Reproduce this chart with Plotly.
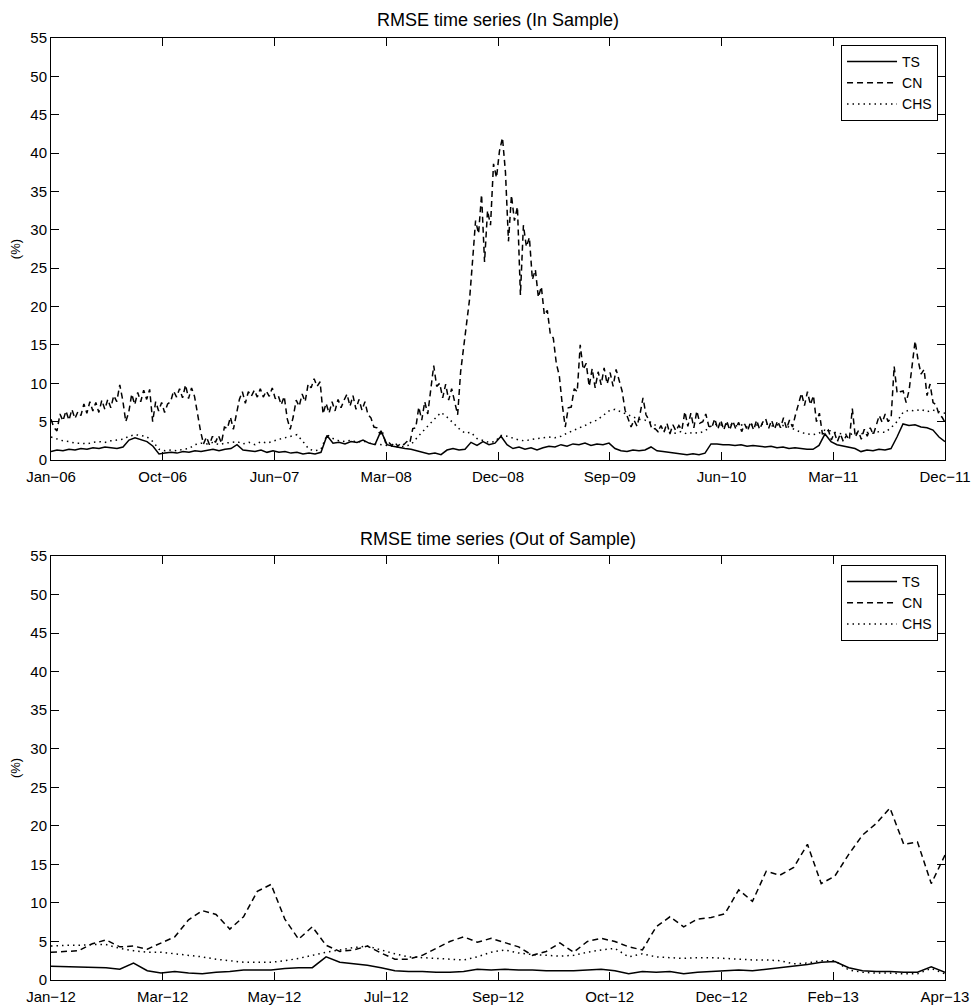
import pandas as pd
import plotly.graph_objects as go

# ---- axis ranges and tick labels -------------------------------------------
IS_START, IS_END = "2006-01-02", "2011-12-20"
OOS_START, OOS_END = "2012-01-04", "2013-04-30"

is_tick_labels = ["Jan−06", "Oct−06", "Jun−07", "Mar−08", "Dec−08",
                  "Sep−09", "Jun−10", "Mar−11", "Dec−11"]
oos_tick_labels = ["Jan−12", "Mar−12", "May−12", "Jul−12", "Sep−12",
                   "Oct−12", "Dec−12", "Feb−13", "Apr−13"]
y_ticks = list(range(0, 56, 5))

# ---- in-sample RMSE (%) ----------------------------------------------------
is_ts = [
    1.1, 1.3, 1.2, 1.4, 1.3, 1.5, 1.4, 1.6, 1.5, 1.7,
    1.6, 1.5, 1.7, 2.6, 2.9, 2.7, 2.4, 1.8, 0.8, 0.9,
    1.0, 0.9, 1.1, 1.0, 1.2, 1.1, 1.3, 1.4, 1.2, 1.4,
    1.5, 2.0, 1.3, 1.2, 1.1, 1.3, 1.0, 1.2, 1.0, 1.1,
    0.9, 1.0, 0.8, 0.9, 0.8, 1.0, 3.2, 2.2, 2.3, 2.1,
    2.4, 2.3, 2.6, 2.2, 2.0, 3.8, 2.0, 1.8, 1.6, 1.5,
    1.4, 1.2, 1.0, 0.8, 0.9, 0.7, 1.3, 1.5, 1.3, 1.4,
    2.3, 1.9, 2.4, 2.0, 2.2, 3.1, 2.0, 1.5, 1.7, 1.4,
    1.6, 1.3, 1.6, 1.8, 1.7, 2.0, 1.8, 2.1, 2.0, 2.2,
    1.9, 2.1, 2.0, 2.2, 1.5, 1.2, 1.1, 1.3, 1.2, 1.3,
    1.7, 1.2, 1.1, 1.0, 0.9, 0.8, 0.7, 0.8, 0.7, 0.9,
    2.1, 2.1, 2.0, 2.0, 1.9, 2.0, 1.8, 1.9, 1.8, 1.7,
    1.8, 1.6, 1.7, 1.5, 1.6, 1.5, 1.4, 1.4, 1.9, 3.4,
    2.4, 2.0, 1.8, 1.7, 1.5, 1.1, 1.3, 1.2, 1.4, 1.3,
    1.5, 3.0, 4.7, 4.5, 4.6, 4.3, 4.2, 3.9, 3.0, 2.4,
]

is_cn = [
    5.3, 4.2, 3.8, 6.0, 5.1, 6.4, 5.2, 6.6, 5.4, 6.3,
    5.8, 7.3, 6.1, 7.6, 6.4, 7.5, 6.2, 7.8, 6.6, 7.9,
    6.8, 8.4, 7.6, 9.8, 7.8, 5.0, 6.2, 8.6, 7.2, 8.8,
    7.6, 9.1, 7.9, 9.2, 5.0, 7.6, 6.4, 7.5, 6.2, 7.3,
    7.6, 9.0, 8.2, 9.3, 8.1, 9.8, 8.0, 9.4, 8.3, 5.8,
    3.8, 2.1, 3.0, 2.0, 3.1, 2.3, 3.2, 2.2, 4.3, 4.1,
    5.6, 4.0, 6.2, 7.9, 8.9, 7.4, 8.9, 8.3, 9.1, 8.2,
    9.3, 8.2, 9.0, 8.3, 9.4, 8.0, 8.4, 7.2, 8.3, 5.4,
    4.0, 5.6, 7.8, 7.0, 8.6, 7.6, 9.9, 9.4, 10.6, 9.6,
    10.2, 6.0, 7.4, 6.1, 7.6, 6.4, 7.9, 6.8, 7.8, 8.6,
    7.0, 8.4, 6.6, 7.9, 6.5, 7.6, 5.9, 5.5, 4.3, 4.2,
    3.4, 3.5, 2.1, 2.3, 1.9, 2.3, 1.8, 2.2, 2.0, 2.4,
    2.2, 4.1, 4.2, 6.9, 5.2, 7.6, 6.0, 9.1, 12.3, 9.6,
    10.0, 8.1, 9.9, 7.8, 9.3, 7.6, 5.9, 11.5, 14.8, 18.0,
    21.0, 26.0, 31.2, 29.5, 34.6, 25.8, 32.5, 30.6, 38.6, 36.8,
    40.3, 42.0, 37.5, 28.5, 34.5, 31.2, 33.0, 21.5, 30.6, 27.8,
    29.0, 23.5, 24.8, 21.2, 22.6, 18.9, 19.5, 16.4, 15.9, 12.6,
    11.0, 7.2, 4.3, 6.8, 6.9, 9.3, 8.9, 15.0, 11.8, 12.6,
    9.6, 11.9, 9.4, 11.5, 9.8, 12.0, 9.9, 11.4, 9.6, 11.8,
    10.2, 9.0, 6.5, 5.4, 4.3, 5.2, 4.4, 6.0, 8.1, 5.9,
    5.2, 4.0, 4.1, 3.7, 4.5, 3.6, 4.8, 3.4, 4.6, 3.8,
    4.5, 3.9, 6.3, 4.4, 6.1, 4.2, 6.4, 4.8, 5.0, 6.0,
    4.4, 4.2, 5.4, 4.0, 5.2, 3.9, 5.1, 3.9, 5.1, 4.1,
    4.9, 3.7, 4.7, 3.8, 5.0, 3.9, 5.2, 4.0, 4.9, 5.4,
    4.1, 5.2, 4.0, 5.1, 4.2, 5.5, 4.1, 5.2, 4.3, 5.9,
    7.4, 8.7, 7.1, 8.9, 7.2, 8.4, 5.0, 6.1, 3.4, 3.5,
    3.9, 2.6, 3.6, 2.4, 3.4, 2.4, 3.2, 2.6, 6.7, 3.0,
    3.8, 2.7, 4.0, 3.1, 4.2, 3.3, 4.5, 5.8, 4.9, 6.0,
    5.0, 5.6, 12.2, 8.7, 8.9, 9.0, 7.5, 9.1, 12.3, 15.5,
    13.0, 11.2, 11.8, 8.4, 9.9, 7.5, 7.2, 5.9, 5.6, 4.9,
]

is_chs = [
    3.0, 2.7, 2.5, 2.4, 2.2, 2.2, 2.1, 2.3, 2.4, 2.3,
    2.5, 2.6, 2.7, 3.1, 3.3, 3.2, 3.0, 2.4, 1.4, 1.2,
    1.3, 1.2, 1.4, 1.5, 2.0, 2.2, 2.1, 2.3, 2.0, 2.2,
    2.3, 2.4, 2.1, 2.3, 2.0, 2.4, 2.2, 2.5, 2.7, 2.9,
    3.1, 3.3, 2.4, 1.4, 1.2, 1.4, 3.3, 2.8, 2.5, 2.4,
    2.6, 2.3, 2.5, 2.2, 2.1, 2.0, 1.9, 1.8, 1.7, 1.8,
    2.0, 2.9, 3.8, 4.6, 5.4, 6.2, 5.6, 4.8, 4.1, 3.5,
    3.6, 2.8, 2.5, 2.3, 2.4, 3.2, 3.1, 2.8, 2.6, 2.5,
    2.7, 2.8, 2.9, 3.0, 2.9, 3.1, 3.5, 3.8, 4.2, 4.5,
    4.9, 5.2, 5.8, 6.4, 6.6, 6.3, 6.0, 5.6, 5.3, 5.2,
    4.9, 4.4, 3.9, 3.6, 3.5, 3.7, 3.4, 3.6, 3.5, 3.8,
    4.4, 4.7, 4.5, 4.8, 4.4, 4.6, 4.3, 4.7, 4.5, 4.8,
    4.4, 4.6, 4.5, 4.3, 3.9, 3.6, 3.4, 3.3, 3.5, 3.9,
    3.8, 3.5, 3.4, 3.3, 3.5, 3.4, 3.6, 3.5, 3.7, 3.6,
    4.2, 5.0, 6.2, 6.5, 6.4, 6.6, 6.3, 6.5, 6.3, 6.1,
]

# ---- out-of-sample RMSE (%) ------------------------------------------------
oos_ts = [
    1.8, 1.75, 1.7, 1.7, 1.6, 1.4, 2.2, 1.2, 0.9, 1.1,
    0.9, 0.8, 1.0, 1.1, 1.3, 1.3, 1.3, 1.5, 1.6, 1.6,
    3.0, 2.3, 2.1, 1.9, 1.6, 1.2, 1.1, 1.1, 1.0, 1.0,
    1.1, 1.4, 1.3, 1.4, 1.3, 1.3, 1.2, 1.2, 1.2, 1.3,
    1.4, 1.2, 0.8, 1.1, 1.0, 1.1, 0.8, 1.0, 1.1, 1.2,
    1.3, 1.2, 1.4, 1.6, 1.8, 2.0, 2.3, 2.4, 1.6, 1.2,
    1.1, 1.1, 1.0, 1.0, 1.7, 1.0,
]

oos_cn = [
    3.6, 3.7, 3.8, 4.7, 5.2, 4.3, 4.4, 4.0, 4.8, 5.6,
    7.8, 9.0, 8.5, 6.6, 8.2, 11.5, 12.4, 7.9, 5.3, 6.9,
    4.5, 3.7, 3.9, 4.4, 3.5, 2.7, 2.7, 3.2, 4.1, 5.0,
    5.6, 4.9, 5.4, 4.8, 4.3, 3.2, 3.7, 4.8, 3.6, 5.0,
    5.4, 5.0, 4.3, 3.9, 6.9, 8.2, 6.9, 7.9, 8.1, 8.6,
    11.7, 10.2, 14.1, 13.6, 14.6, 17.6, 12.5, 13.5, 16.3, 18.8,
    20.3, 22.3, 17.6, 17.9, 12.5, 16.2,
]

oos_chs = [
    4.4, 4.5, 4.5, 4.6, 4.6, 4.1, 3.8, 3.6, 3.6, 3.4,
    3.2, 3.0, 2.7, 2.5, 2.3, 2.3, 2.3, 2.5, 2.8, 3.2,
    3.6, 3.9, 4.2, 4.4, 3.9, 3.4, 3.0, 2.9, 2.8, 2.7,
    2.6, 3.0, 3.6, 3.9, 3.5, 3.3, 3.2, 3.1, 3.2, 3.6,
    3.9, 4.1, 3.0, 3.4, 3.0, 2.9, 2.8, 2.9, 2.9, 2.8,
    2.7, 2.6, 2.6, 2.5, 2.1, 2.2, 2.5, 2.5, 1.3, 1.0,
    0.9, 0.9, 0.8, 0.8, 1.5, 0.8,
]

# ---- styling ---------------------------------------------------------------
FONT = "Liberation Sans, Arial, Helvetica, sans-serif"
STYLES = {
    "TS": dict(color="black", width=1.5, dash="solid"),
    "CN": dict(color="black", width=1.5, dash="6px,4px"),
    "CHS": dict(color="black", width=1.5, dash="1.5px,4px"),
}


def dates(start, end, values):
    return pd.date_range(start, end, periods=len(values))


fig = go.Figure()

panels = [
    ("x", "y", "legend", IS_START, IS_END,
     [("TS", is_ts), ("CN", is_cn), ("CHS", is_chs)]),
    ("x2", "y2", "legend2", OOS_START, OOS_END,
     [("TS", oos_ts), ("CN", oos_cn), ("CHS", oos_chs)]),
]

for xa, ya, leg, start, end, series in panels:
    for name, vals in series:
        fig.add_trace(go.Scatter(
            x=dates(start, end, vals), y=vals, mode="lines", name=name,
            line=STYLES[name], xaxis=xa, yaxis=ya, legend=leg,
            hoverinfo="skip",
        ))

axis_common = dict(
    showline=True, linecolor="black", linewidth=1, mirror="ticks",
    ticks="inside", ticklen=8, tickwidth=1, tickcolor="black",
    showgrid=False, zeroline=False, automargin=False,
    tickfont=dict(family=FONT, size=15, color="black"),
)

is_tickvals = pd.date_range(IS_START, IS_END, periods=len(is_tick_labels))
oos_tickvals = pd.date_range(OOS_START, OOS_END, periods=len(oos_tick_labels))

TOP_DOMAIN = [0.552, 1.0]
BOT_DOMAIN = [0.0, 0.4501]

fig.update_layout(
    width=972, height=1005,
    margin=dict(l=51, r=27, t=38, b=25, autoexpand=False),
    paper_bgcolor="white", plot_bgcolor="white",
    font=dict(family=FONT, color="black"),
    showlegend=True,
    xaxis=dict(axis_common, domain=[0, 1], anchor="y", type="date",
               range=[IS_START, IS_END], tickmode="array",
               tickvals=is_tickvals, ticktext=is_tick_labels,
               ticklabelstandoff=3),
    yaxis=dict(axis_common, domain=TOP_DOMAIN, anchor="x", range=[0, 55],
               tickmode="array", tickvals=y_ticks,
               title=dict(text="(%)", font=dict(family=FONT, size=13),
                          standoff=6)),
    xaxis2=dict(axis_common, domain=[0, 1], anchor="y2", type="date",
                range=[OOS_START, OOS_END], tickmode="array",
                tickvals=oos_tickvals, ticktext=oos_tick_labels,
                ticklabelstandoff=3),
    yaxis2=dict(axis_common, domain=BOT_DOMAIN, anchor="x2", range=[0, 55],
                tickmode="array", tickvals=y_ticks,
                title=dict(text="(%)", font=dict(family=FONT, size=13),
                           standoff=6)),
)

legend_style = dict(
    xanchor="right", yanchor="top", x=0.9922,
    bgcolor="white", bordercolor="black", borderwidth=1,
    font=dict(family=FONT, size=14, color="black"),
    itemwidth=50, tracegroupgap=0,
)
fig.update_layout(
    legend=dict(legend_style, y=0.9926),
    legend2=dict(legend_style, y=0.4406),
)

for text, y_dom, shift in [("RMSE time series (In Sample)", TOP_DOMAIN[1], 6),
                           ("RMSE time series (Out of Sample)", BOT_DOMAIN[1], 5)]:
    fig.add_annotation(
        text=text, x=0.5, xref="paper", y=y_dom, yref="paper",
        xanchor="center", yanchor="bottom", yshift=shift, showarrow=False,
        font=dict(family=FONT, size=18, color="black"),
    )

fig.write_html("out.html")
